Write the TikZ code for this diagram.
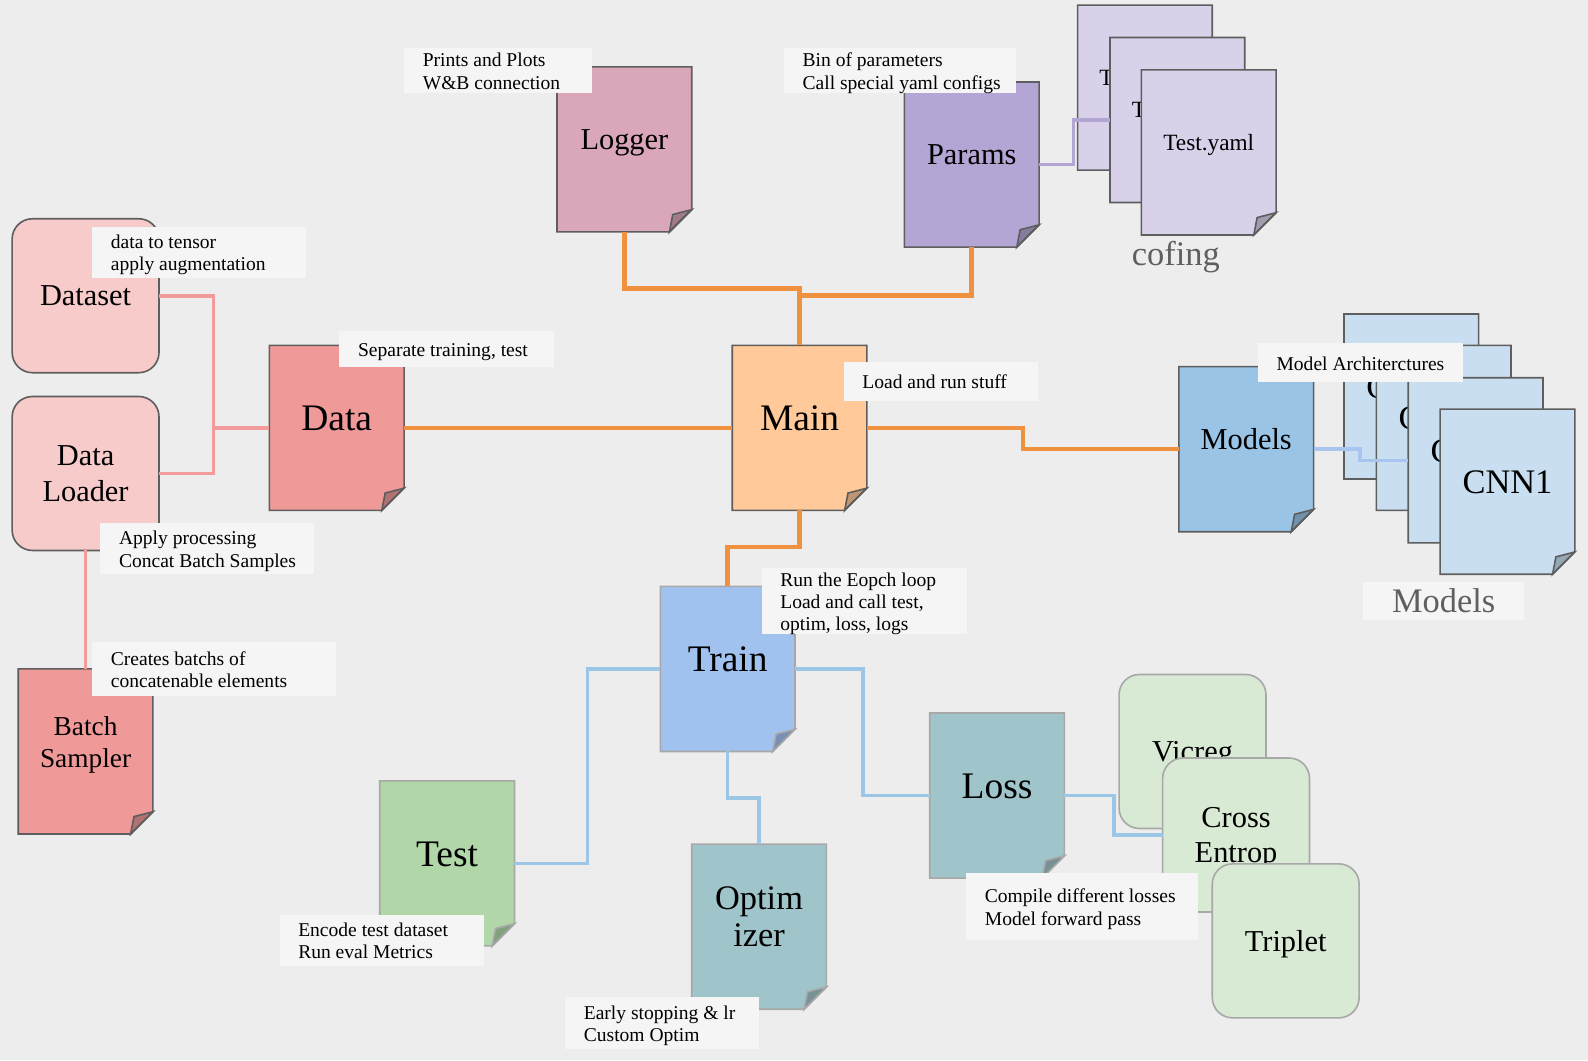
\documentclass[tikz,border=0pt]{standalone}
\usepackage{fontspec}
\setmainfont{Liberation Serif}
\makeatletter
\newdimen\docfoldsize
\docfoldsize=22pt
\pgfdeclareshape{docpage}{
  \inheritsavedanchors[from=rectangle]
  \inheritanchorborder[from=rectangle]
  \inheritanchor[from=rectangle]{center}
  \inheritanchor[from=rectangle]{north}
  \inheritanchor[from=rectangle]{south}
  \inheritanchor[from=rectangle]{east}
  \inheritanchor[from=rectangle]{west}
  \inheritanchor[from=rectangle]{north east}
  \inheritanchor[from=rectangle]{north west}
  \inheritanchor[from=rectangle]{south east}
  \inheritanchor[from=rectangle]{south west}
  \inheritanchor[from=rectangle]{text}
  \inheritanchor[from=rectangle]{mid}
  \inheritanchor[from=rectangle]{base}
  \backgroundpath{%
    \southwest \edef\dpxa{\the\pgf@x}\edef\dpya{\the\pgf@y}%
    \northeast \edef\dpxb{\the\pgf@x}\edef\dpyb{\the\pgf@y}%
    \pgf@x=\dpxb\relax \advance\pgf@x by-\docfoldsize \edef\dpxc{\the\pgf@x}%
    \pgf@y=\dpya\relax \advance\pgf@y by\docfoldsize \edef\dpyc{\the\pgf@y}%
    \pgfpathmoveto{\pgfqpoint{\dpxa}{\dpya}}%
    \pgfpathlineto{\pgfqpoint{\dpxa}{\dpyb}}%
    \pgfpathlineto{\pgfqpoint{\dpxb}{\dpyb}}%
    \pgfpathlineto{\pgfqpoint{\dpxb}{\dpyc}}%
    \pgfpathlineto{\pgfqpoint{\dpxc}{\dpya}}%
    \pgfpathclose
  }
  \beforebackgroundpath{%
    \southwest \edef\dpya{\the\pgf@y}%
    \northeast \edef\dpxb{\the\pgf@x}%
    \pgf@x=\dpxb\relax \advance\pgf@x by-\docfoldsize \edef\dpxc{\the\pgf@x}%
    \pgf@y=\dpya\relax \advance\pgf@y by\docfoldsize \edef\dpyc{\the\pgf@y}%
    \pgf@x=\dpxb\relax \advance\pgf@x by-0.85\docfoldsize \edef\dpxd{\the\pgf@x}%
    \pgf@y=\dpya\relax \advance\pgf@y by0.78\docfoldsize \edef\dpyd{\the\pgf@y}%
    \pgfscope
    \pgfpathmoveto{\pgfqpoint{\dpxb}{\dpyc}}%
    \pgfpathlineto{\pgfqpoint{\dpxd}{\dpyd}}%
    \pgfpathlineto{\pgfqpoint{\dpxc}{\dpya}}%
    \pgfpathclose
    \pgfsetfillcolor{black}%
    \pgfsetfillopacity{0.25}%
    \pgfusepath{fill,stroke}%
    \endpgfscope
  }
}
\makeatother
\newcommand\mltwo[2]{\smash{\begin{tabular}{@{}c@{}}#1\\#2\end{tabular}}}
\newcommand\lbl[2]{\smash{\raisebox{#1}{#2}}}
\newcommand\mknote[6]{%
  \node[notebg, minimum width=#4pt, minimum height=#5pt, anchor=north west] (#1) at (#2,#3) {};
  \node[notetx, anchor=west] (#1t) at ([xshift=18.5pt,yshift=-3pt]#1.west) {\strut #6\strut};
}
\definecolor{bgc}{HTML}{EDEDED}
\definecolor{notec}{HTML}{F5F5F5}
\definecolor{bord}{HTML}{5E5E5E}
\definecolor{lbord}{HTML}{A8A8A8}
\definecolor{loggerc}{HTML}{D9A6BA}
\definecolor{paramsc}{HTML}{B3A6D4}
\definecolor{cfgc}{HTML}{D9D1E9}
\definecolor{mainc}{HTML}{FFC999}
\definecolor{datac}{HTML}{F09999}
\definecolor{dsc}{HTML}{F8CBCB}
\definecolor{modelsc}{HTML}{99C4E6}
\definecolor{cnnc}{HTML}{C9DFF1}
\definecolor{trainc}{HTML}{A1C1EF}
\definecolor{testc}{HTML}{B1D7A9}
\definecolor{lossc}{HTML}{9FC4CA}
\definecolor{greenc}{HTML}{D9EAD4}
\definecolor{orangec}{HTML}{F0913F}
\definecolor{pinkc}{HTML}{F19B9B}
\definecolor{purpc}{HTML}{B3A6D4}
\definecolor{lbluec}{HTML}{A8C5F0}
\definecolor{blinec}{HTML}{9CC6E6}
\definecolor{greyt}{HTML}{5F5F5F}
\begin{document}
\begin{tikzpicture}[x=1pt,y=-1pt,
  doc/.style={shape=docpage, minimum width=133pt, minimum height=163pt, inner sep=0pt, outer sep=0pt, draw=bord, line width=1.6pt, text=black},
  ldoc/.style={doc, draw=lbord},
  rbox/.style={rectangle, rounded corners=20pt, minimum width=145pt, minimum height=152pt, inner sep=0pt, outer sep=0pt, draw=bord, line width=1.6pt, align=center, text=black, text depth=0pt},
  fbig/.style={font={\fontsize{37}{42}\selectfont}},
  fmid/.style={font={\fontsize{30}{35}\selectfont}},
  fbatch/.style={font={\fontsize{27}{32}\selectfont}},
  foptim/.style={font={\fontsize{34}{37}\selectfont}},
  fcnn/.style={font={\fontsize{34}{38}\selectfont}},
  fyaml/.style={font={\fontsize{23}{27}\selectfont}},
  fgrey/.style={font={\fontsize{34}{38}\selectfont}, text=greyt},
  notebg/.style={fill=notec, inner sep=0pt, outer sep=0pt},
  notetx/.style={inner sep=0pt, outer sep=0pt, align=left, font={\fontsize{19.3}{22}\selectfont}, text=black},
  oline/.style={draw=orangec, line width=4.5pt},
  pline/.style={draw=pinkc, line width=3.5pt},
  vline/.style={draw=purpc, line width=3.5pt},
  mline/.style={draw=lbluec, line width=3.5pt},
  bline/.style={draw=blinec, line width=3.5pt}
]
\fill[bgc] (0,0) rectangle (1568,1047);
\useasboundingbox (0,0) rectangle (1568,1047);

% nodes
\node[doc, fill=loggerc, fmid] (logger) at (616.5,147.5) {\lbl{0pt}{Logger}};
\node[doc, fill=paramsc, fmid] (params) at (959.5,162.5) {\lbl{0pt}{Params}};
\node[doc, fill=cfgc, fyaml] (cfg1) at (1130.5,86.5) {\lbl{2pt}{Test.yaml}};
\node[doc, fill=cfgc, fyaml] (cfg2) at (1162.5,118.5) {\lbl{2pt}{Test.yaml}};
\node[doc, fill=cfgc, fyaml] (cfg3) at (1193.5,150.5) {\lbl{2pt}{Test.yaml}};
\node[doc, fill=mainc, fbig] (main) at (789.5,422.5) {\lbl{-3pt}{Main}};
\node[doc, fill=datac, fbig] (data) at (332.5,422.5) {\lbl{-3pt}{Data}};
\node[rbox, fill=dsc, fmid] (dataset) at (84.5,292) {Dataset};
\node[rbox, fill=dsc, fmid] (loader) at (84.5,467.5) {Data\\Loader};
\node[doc, fill=datac, fbatch] (batch) at (84.5,742) {\mltwo{Batch}{Sampler}};
\node[doc, fill=modelsc, fmid] (models) at (1230.5,443.5) {\lbl{0pt}{Models}};
\node[doc, fill=cnnc, fcnn] (cnn1) at (1393.5,391.5) {\lbl{-2pt}{CNN1}};
\node[doc, fill=cnnc, fcnn] (cnn2) at (1425.5,422.5) {\lbl{-2pt}{CNN1}};
\node[doc, fill=cnnc, fcnn] (cnn3) at (1457,454.5) {\lbl{-2pt}{CNN1}};
\node[doc, fill=cnnc, fcnn] (cnn4) at (1488.5,485.5) {\lbl{-2pt}{CNN1}};
\node[ldoc, fill=trainc, fbig] (train) at (718.5,660.5) {\lbl{-3pt}{Train}};
\node[ldoc, fill=testc, fbig] (test) at (441.5,852.5) {\lbl{-3pt}{Test}};
\node[ldoc, fill=lossc, foptim] (optim) at (749.5,915) {\mltwo{Optim}{izer}};
\node[ldoc, fill=lossc, fbig] (loss) at (984.5,785.5) {\lbl{-3pt}{Loss}};
\node[rbox, draw=lbord, fill=greenc, fmid] (vicreg) at (1177.5,742) {Vicreg};
\node[rbox, draw=lbord, fill=greenc, fmid] (cross) at (1220.5,824.5) {Cross\\Entrop};
\node[rbox, draw=lbord, fill=greenc, fmid] (triplet) at (1269.5,929) {Triplet};

% connectors
\draw[oline] (logger.south) -- ++(0,56) -| (main.north);
\draw[oline] (params.south) -- ++(0,48) -| (main.north);
\draw[oline] (data.east) -- (main.west);
\draw[oline] (main.east) -- ++(154,0) |- (models.west);
\draw[oline] (main.south) -- ++(0,36) -| (train.north);
\draw[pline] (dataset.east) -- ++(54,0) coordinate (pj) |- (loader.east);
\draw[pline] (data.west) -- (data.west -| pj);
\draw[pline] (loader.south) -- (batch.north);
\draw[vline] (params.east) -- ++(34,0) |- (cfg2.west);
\draw[mline] (models.east) -- ++(46,0) |- (cnn3.west);
\draw[bline] (train.west) -- ++(-72,0) |- (test.east);
\draw[bline] (train.east) -- ++(67,0) |- (loss.west);
\draw[bline] (train.south) -- ++(0,46) -| (optim.north);
\draw[bline] (loss.east) -- ++(49,0) |- (cross.west);

% notes
\mknote{nlogger}{399}{47}{186}{45}{Prints and Plots\\W\&B connection}
\mknote{nparams}{774}{47}{229}{45}{Bin of parameters\\Call special yaml configs}
\mknote{nmain}{833}{357}{192}{39}{Load and run stuff}
\mknote{ndata}{335}{327}{212}{35}{Separate training, test}
\mknote{ndataset}{91}{224}{211}{50}{data to tensor\\apply augmentation}
\mknote{nloader}{99}{516}{211}{51}{Apply processing\\Concat Batch Samples}
\mknote{nbatch}{91}{634}{241}{53}{Creates batchs of\\concatenable elements}
\mknote{nmodels}{1242}{339}{203}{38}{Model Architerctures}
\mknote{ntrain}{752}{561}{203}{65}{Run the Eopch loop\\Load and call test,\\optim, loss, logs}
\mknote{ntest}{276}{903}{202}{51}{Encode test dataset\\Run eval Metrics}
\mknote{noptim}{558}{984}{191}{52}{Early stopping \& lr\\Custom Optim}
\mknote{nloss}{954}{862}{229}{66}{Compile different losses\\Model forward pass}

% group labels
\node[fill=notec, minimum width=159pt, minimum height=37pt, inner sep=0pt, fgrey] (mlabel) at (1425.5,593.5) {Models};
\node[fgrey, inner sep=0pt] (cofing) at (1161,254) {cofing};
\end{tikzpicture}
\end{document}
